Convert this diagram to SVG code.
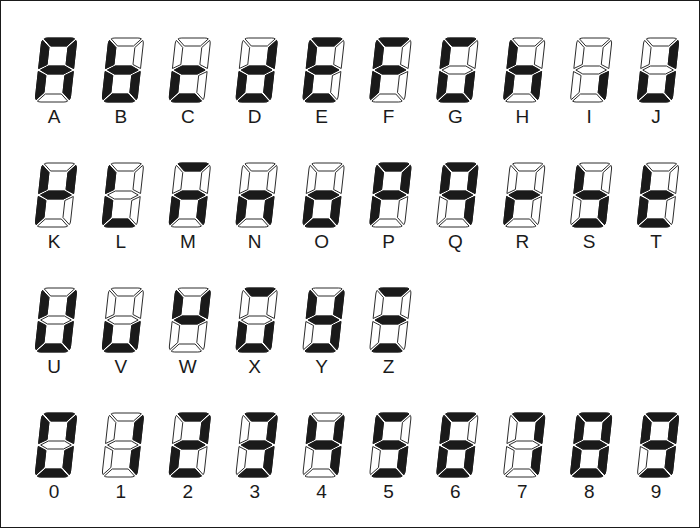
<svg xmlns="http://www.w3.org/2000/svg" width="700" height="528" viewBox="0 0 700 528">
<style>
.off{fill:#fff;stroke:#1a1a1a;stroke-width:0.9;stroke-linejoin:round}
.on{fill:#1a1a1a;stroke:#1a1a1a;stroke-width:0.9;stroke-linejoin:round}
.lbl{font-family:"Liberation Sans",Arial,sans-serif;font-size:19px;text-anchor:middle;fill:#1a1a1a}
</style>
<defs>
<path id="a" d="M2.4,0.9 Q3.5,0 6,0 L29,0 Q31.5,0 32.6,0.9 L25.5,8 L9.5,8 Z"/>
<path id="b" d="M34.1,2.4 Q35,3.5 35,6 L35,30.5 L27,26.5 L27,9.5 Z"/>
<path id="c" d="M35,33.5 L27,37.5 L27,54.5 L34.1,61.6 Q35,60.5 35,58 Z"/>
<path id="d" d="M2.4,63.1 Q3.5,64 6,64 L29,64 Q31.5,64 32.6,63.1 L25.5,56 L9.5,56 Z"/>
<path id="e" d="M0,33.5 L8,37.5 L8,54.5 L0.9,61.6 Q0,60.5 0,58 Z"/>
<path id="f" d="M0.9,2.4 Q0,3.5 0,6 L0,30.5 L8,26.5 L8,9.5 Z"/>
<path id="g" d="M2.2,32 L9.5,28 L25.5,28 L32.8,32 L25.5,36 L9.5,36 Z"/>
<g id="blank" class="off"><use href="#a"/><use href="#b"/><use href="#c"/><use href="#d"/><use href="#e"/><use href="#f"/><use href="#g"/></g>
</defs>
<rect x="0.5" y="0.5" width="699" height="527" fill="#fff" stroke="#1a1a1a" stroke-width="1"/>

<g id="char-A"><g transform="translate(42,38) skewX(-6.3)"><use href="#blank"/><g class="on"><use href="#a"/><use href="#b"/><use href="#c"/><use href="#e"/><use href="#f"/><use href="#g"/></g></g><text class="lbl" x="54" y="123">A</text></g>
<g id="char-B"><g transform="translate(108.9,38) skewX(-6.3)"><use href="#blank"/><g class="on"><use href="#c"/><use href="#d"/><use href="#e"/><use href="#f"/><use href="#g"/></g></g><text class="lbl" x="120.9" y="123">B</text></g>
<g id="char-C"><g transform="translate(175.8,38) skewX(-6.3)"><use href="#blank"/><g class="on"><use href="#d"/><use href="#e"/><use href="#g"/></g></g><text class="lbl" x="187.8" y="123">C</text></g>
<g id="char-D"><g transform="translate(242.7,38) skewX(-6.3)"><use href="#blank"/><g class="on"><use href="#b"/><use href="#c"/><use href="#d"/><use href="#e"/><use href="#g"/></g></g><text class="lbl" x="254.7" y="123">D</text></g>
<g id="char-E"><g transform="translate(309.6,38) skewX(-6.3)"><use href="#blank"/><g class="on"><use href="#a"/><use href="#d"/><use href="#e"/><use href="#f"/><use href="#g"/></g></g><text class="lbl" x="321.6" y="123">E</text></g>
<g id="char-F"><g transform="translate(376.5,38) skewX(-6.3)"><use href="#blank"/><g class="on"><use href="#a"/><use href="#e"/><use href="#f"/><use href="#g"/></g></g><text class="lbl" x="388.5" y="123">F</text></g>
<g id="char-G"><g transform="translate(443.4,38) skewX(-6.3)"><use href="#blank"/><g class="on"><use href="#a"/><use href="#c"/><use href="#d"/><use href="#e"/><use href="#f"/></g></g><text class="lbl" x="455.4" y="123">G</text></g>
<g id="char-H"><g transform="translate(510.3,38) skewX(-6.3)"><use href="#blank"/><g class="on"><use href="#c"/><use href="#e"/><use href="#f"/><use href="#g"/></g></g><text class="lbl" x="522.3" y="123">H</text></g>
<g id="char-I"><g transform="translate(577.2,38) skewX(-6.3)"><use href="#blank"/><g class="on"><use href="#c"/></g></g><text class="lbl" x="589.2" y="123">I</text></g>
<g id="char-J"><g transform="translate(644.1,38) skewX(-6.3)"><use href="#blank"/><g class="on"><use href="#b"/><use href="#c"/><use href="#d"/><use href="#e"/></g></g><text class="lbl" x="656.1" y="123">J</text></g>

<g id="char-K"><g transform="translate(42,163) skewX(-6.3)"><use href="#blank"/><g class="on"><use href="#b"/><use href="#e"/><use href="#f"/><use href="#g"/></g></g><text class="lbl" x="54" y="248">K</text></g>
<g id="char-L"><g transform="translate(108.9,163) skewX(-6.3)"><use href="#blank"/><g class="on"><use href="#d"/><use href="#e"/><use href="#f"/></g></g><text class="lbl" x="120.9" y="248">L</text></g>
<g id="char-M"><g transform="translate(175.8,163) skewX(-6.3)"><use href="#blank"/><g class="on"><use href="#a"/><use href="#c"/><use href="#e"/><use href="#g"/></g></g><text class="lbl" x="187.8" y="248">M</text></g>
<g id="char-N"><g transform="translate(242.7,163) skewX(-6.3)"><use href="#blank"/><g class="on"><use href="#c"/><use href="#e"/><use href="#g"/></g></g><text class="lbl" x="254.7" y="248">N</text></g>
<g id="char-O"><g transform="translate(309.6,163) skewX(-6.3)"><use href="#blank"/><g class="on"><use href="#c"/><use href="#d"/><use href="#e"/><use href="#g"/></g></g><text class="lbl" x="321.6" y="248">O</text></g>
<g id="char-P"><g transform="translate(376.5,163) skewX(-6.3)"><use href="#blank"/><g class="on"><use href="#a"/><use href="#b"/><use href="#e"/><use href="#f"/><use href="#g"/></g></g><text class="lbl" x="388.5" y="248">P</text></g>
<g id="char-Q"><g transform="translate(443.4,163) skewX(-6.3)"><use href="#blank"/><g class="on"><use href="#a"/><use href="#b"/><use href="#c"/><use href="#f"/><use href="#g"/></g></g><text class="lbl" x="455.4" y="248">Q</text></g>
<g id="char-R"><g transform="translate(510.3,163) skewX(-6.3)"><use href="#blank"/><g class="on"><use href="#e"/><use href="#g"/></g></g><text class="lbl" x="522.3" y="248">R</text></g>
<g id="char-S"><g transform="translate(577.2,163) skewX(-6.3)"><use href="#blank"/><g class="on"><use href="#c"/><use href="#d"/><use href="#f"/><use href="#g"/></g></g><text class="lbl" x="589.2" y="248">S</text></g>
<g id="char-T"><g transform="translate(644.1,163) skewX(-6.3)"><use href="#blank"/><g class="on"><use href="#d"/><use href="#e"/><use href="#f"/><use href="#g"/></g></g><text class="lbl" x="656.1" y="248">T</text></g>

<g id="char-U"><g transform="translate(42,288) skewX(-6.3)"><use href="#blank"/><g class="on"><use href="#b"/><use href="#c"/><use href="#d"/><use href="#e"/><use href="#f"/></g></g><text class="lbl" x="54" y="373">U</text></g>
<g id="char-V"><g transform="translate(108.9,288) skewX(-6.3)"><use href="#blank"/><g class="on"><use href="#c"/><use href="#d"/><use href="#e"/></g></g><text class="lbl" x="120.9" y="373">V</text></g>
<g id="char-W"><g transform="translate(175.8,288) skewX(-6.3)"><use href="#blank"/><g class="on"><use href="#b"/><use href="#f"/><use href="#g"/></g></g><text class="lbl" x="187.8" y="373">W</text></g>
<g id="char-X"><g transform="translate(242.7,288) skewX(-6.3)"><use href="#blank"/><g class="on"><use href="#a"/><use href="#c"/><use href="#d"/><use href="#e"/></g></g><text class="lbl" x="254.7" y="373">X</text></g>
<g id="char-Y"><g transform="translate(309.6,288) skewX(-6.3)"><use href="#blank"/><g class="on"><use href="#b"/><use href="#c"/><use href="#d"/><use href="#f"/><use href="#g"/></g></g><text class="lbl" x="321.6" y="373">Y</text></g>
<g id="char-Z"><g transform="translate(376.5,288) skewX(-6.3)"><use href="#blank"/><g class="on"><use href="#a"/><use href="#d"/><use href="#g"/></g></g><text class="lbl" x="388.5" y="373">Z</text></g>

<g id="char-0"><g transform="translate(42,413) skewX(-6.3)"><use href="#blank"/><g class="on"><use href="#a"/><use href="#b"/><use href="#c"/><use href="#d"/><use href="#e"/><use href="#f"/></g></g><text class="lbl" x="54" y="498">0</text></g>
<g id="char-1"><g transform="translate(108.9,413) skewX(-6.3)"><use href="#blank"/><g class="on"><use href="#b"/><use href="#c"/></g></g><text class="lbl" x="120.9" y="498">1</text></g>
<g id="char-2"><g transform="translate(175.8,413) skewX(-6.3)"><use href="#blank"/><g class="on"><use href="#a"/><use href="#b"/><use href="#d"/><use href="#e"/><use href="#g"/></g></g><text class="lbl" x="187.8" y="498">2</text></g>
<g id="char-3"><g transform="translate(242.7,413) skewX(-6.3)"><use href="#blank"/><g class="on"><use href="#a"/><use href="#b"/><use href="#c"/><use href="#d"/><use href="#g"/></g></g><text class="lbl" x="254.7" y="498">3</text></g>
<g id="char-4"><g transform="translate(309.6,413) skewX(-6.3)"><use href="#blank"/><g class="on"><use href="#b"/><use href="#c"/><use href="#f"/><use href="#g"/></g></g><text class="lbl" x="321.6" y="498">4</text></g>
<g id="char-5"><g transform="translate(376.5,413) skewX(-6.3)"><use href="#blank"/><g class="on"><use href="#a"/><use href="#c"/><use href="#d"/><use href="#f"/><use href="#g"/></g></g><text class="lbl" x="388.5" y="498">5</text></g>
<g id="char-6"><g transform="translate(443.4,413) skewX(-6.3)"><use href="#blank"/><g class="on"><use href="#a"/><use href="#c"/><use href="#d"/><use href="#e"/><use href="#f"/><use href="#g"/></g></g><text class="lbl" x="455.4" y="498">6</text></g>
<g id="char-7"><g transform="translate(510.3,413) skewX(-6.3)"><use href="#blank"/><g class="on"><use href="#a"/><use href="#b"/><use href="#c"/></g></g><text class="lbl" x="522.3" y="498">7</text></g>
<g id="char-8"><g transform="translate(577.2,413) skewX(-6.3)"><use href="#blank"/><g class="on"><use href="#a"/><use href="#b"/><use href="#c"/><use href="#d"/><use href="#e"/><use href="#f"/><use href="#g"/></g></g><text class="lbl" x="589.2" y="498">8</text></g>
<g id="char-9"><g transform="translate(644.1,413) skewX(-6.3)"><use href="#blank"/><g class="on"><use href="#a"/><use href="#b"/><use href="#c"/><use href="#d"/><use href="#f"/><use href="#g"/></g></g><text class="lbl" x="656.1" y="498">9</text></g>
</svg>
